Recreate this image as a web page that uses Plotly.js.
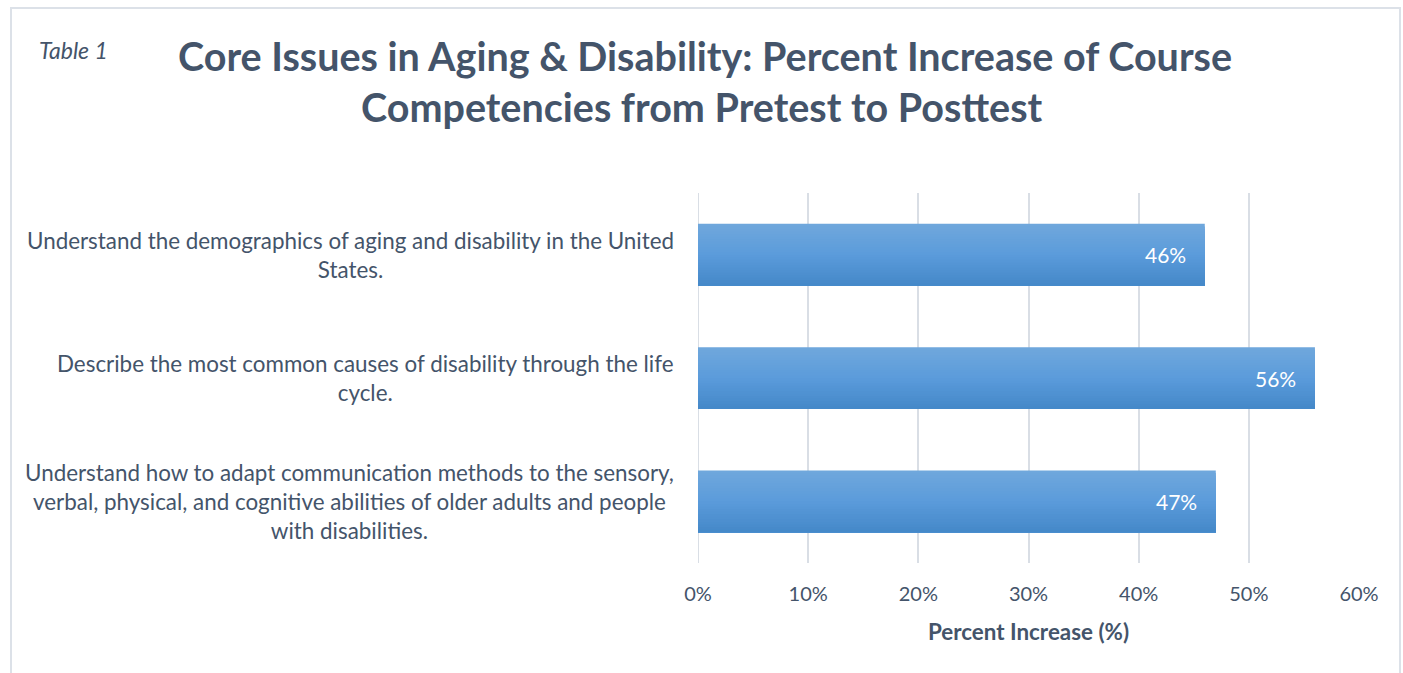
<!DOCTYPE html>
<html>
<head>
<meta charset="utf-8">
<script src="https://cdn.plot.ly/plotly-3.0.1.min.js"></script>
<style>
  html, body { margin: 0; padding: 0; background: #ffffff; }
  #chart { width: 1403px; height: 673px; }
</style>
</head>
<body>
<div id="chart"></div>
<script>
// ---- data ----
const categories = [
  "Understand the demographics of aging and disability in the United<br>States.",
  "Describe the most common causes of disability through the life<br>cycle.",
  "Understand how to adapt communication methods to the sensory,<br>verbal, physical, and cognitive abilities of older adults and people<br>with disabilities."
];
const percentIncrease = [46, 56, 47];
const xTickValues = [0, 10, 20, 30, 40, 50, 60];
const xTickLabels = ["0%", "10%", "20%", "30%", "40%", "50%", "60%"];
const titleLines = [
  "Core Issues in Aging &amp; Disability: Percent Increase of Course",
  "Competencies from Pretest to Posttest"
];
const xAxisTitle = "Percent Increase (%)";
const tableLabel = "Table 1";

// ---- styling ----
const FONT = "Lato, 'Open Sans', sans-serif";
const TEXT = "#44546A";
const W = 1403, H = 673;
const M = { l: 698, r: 44, t: 193, b: 110 };
const PW = W - M.l - M.r, PH = H - M.t - M.b;
const px = x => (x - M.l) / PW;
const py = y => (H - M.b - y) / PH;

// gradient bands (top light -> bottom darker); each band runs to the bar's bottom edge
const topC = [112, 167, 220], midC = [91, 155, 219], botC = [68, 136, 200];
const nb = 24;
const mix = (a, b, t) => a.map((v, k) => Math.round(v + (b[k] - v) * t));
const bandColors = [];
for (let i = 0; i < nb; i++) {
  const t = (i + 0.5) / nb;
  const c = t < 0.5 ? mix(topC, midC, t / 0.5) : mix(midC, botC, (t - 0.5) / 0.5);
  bandColors.push("rgb(" + c.join(",") + ")");
}
const barWidth = 0.5;
const traces = bandColors.map((c, i) => ({
  type: "bar",
  orientation: "h",
  y: categories,
  x: percentIncrease,
  width: barWidth - i * barWidth / nb,
  offset: -barWidth / 2 + i * barWidth / nb,
  marker: { color: c, line: { width: 0 } },
  hoverinfo: "skip",
  showlegend: false
}));

const annotations = [];
categories.forEach((c, i) => {
  annotations.push({
    xref: "x", yref: "y", x: 0, y: c,
    xanchor: "right", yanchor: "middle", xshift: -22,
    text: c, showarrow: false, align: "center",
    font: { family: FONT, size: 22.4, color: TEXT }
  });
  annotations.push({
    xref: "x", yref: "y", x: percentIncrease[i], y: c,
    xanchor: "right", yanchor: "middle", xshift: -17,
    text: percentIncrease[i] + "%", showarrow: false,
    font: { family: FONT, size: 21, color: "#ffffff" }
  });
});
annotations.push({
  xref: "paper", yref: "paper", x: px(37), y: py(50),
  xanchor: "left", yanchor: "middle",
  text: "<i>" + tableLabel + "</i>", showarrow: false,
  font: { family: FONT, size: 23, color: TEXT }
});
const titleCenters = [[705, 55], [701, 107]];
titleLines.forEach((t, i) => {
  annotations.push({
    xref: "paper", yref: "paper", x: px(titleCenters[i][0]), y: py(titleCenters[i][1]),
    xanchor: "center", yanchor: "middle",
    text: "<b>" + t + "</b>", showarrow: false,
    font: { family: FONT, size: 39.5, color: TEXT }
  });
});

const layout = {
  width: W, height: H,
  margin: M,
  paper_bgcolor: "#ffffff",
  plot_bgcolor: "#ffffff",
  barmode: "overlay",
  xaxis: {
    range: [0, 60],
    tickvals: xTickValues, ticktext: xTickLabels,
    showgrid: true, gridcolor: "#D9DEE5", gridwidth: 2,
    zeroline: false, showline: false,
    ticks: "outside", ticklen: 13, tickcolor: "rgba(0,0,0,0)",
    tickfont: { family: FONT, size: 20, color: TEXT },
    title: { text: "<b>" + xAxisTitle + "</b>", standoff: 20,
      font: { family: FONT, size: 22.4, color: TEXT } },
    fixedrange: true
  },
  yaxis: {
    type: "category",
    categoryorder: "array", categoryarray: categories,
    autorange: "reversed",
    showticklabels: false, showgrid: false, zeroline: false, showline: false,
    fixedrange: true
  },
  shapes: [{
    type: "rect", xref: "paper", yref: "paper",
    x0: px(11), x1: px(1400), y0: py(720), y1: py(8),
    line: { color: "#DCE1E8", width: 2 }, fillcolor: "rgba(0,0,0,0)", layer: "below"
  }, {
    type: "line", xref: "x", yref: "paper", x0: 0, x1: 0, y0: 0, y1: 1,
    line: { color: "#D9DEE5", width: 2 }, layer: "below"
  }],
  annotations: annotations,
  showlegend: false
};

Plotly.newPlot("chart", traces, layout, { displayModeBar: false, staticPlot: true });
</script>
</body>
</html>
